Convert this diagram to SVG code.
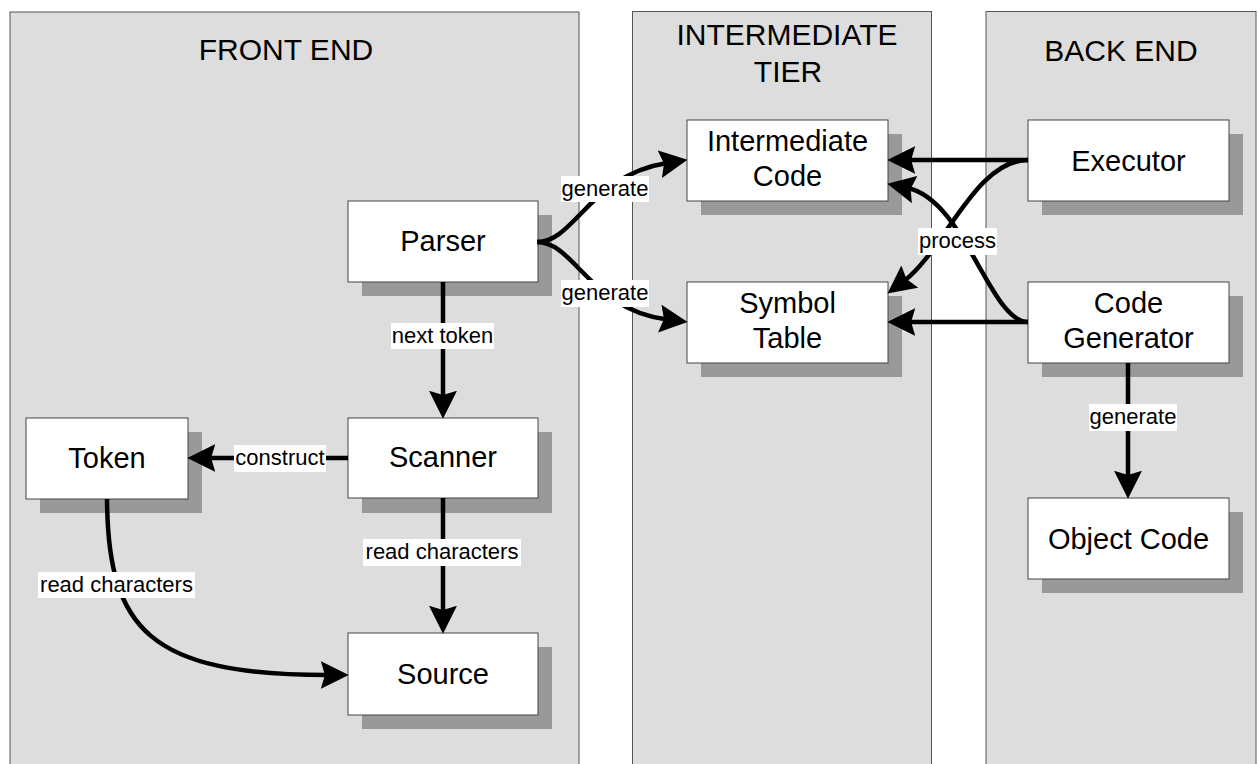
<svg xmlns="http://www.w3.org/2000/svg" width="1258" height="764" viewBox="0 0 1258 764">
<defs>
<style>
.panel{fill:#dddddd;stroke:#555555;stroke-width:1}
.title{font-family:"Liberation Sans",Arial,sans-serif;font-size:30px;fill:#000;text-anchor:middle}
.box{fill:#ffffff;stroke:#444444;stroke-width:1}
.shadow{fill:#999999}
.ntext{font-family:"Liberation Sans",Arial,sans-serif;font-size:29px;fill:#000;text-anchor:middle}
.edge{fill:none;stroke:#000;stroke-width:4.5;marker-end:url(#arr)}
.lbg{fill:#ffffff}
.ltext{font-family:"Liberation Sans",Arial,sans-serif;font-size:22px;fill:#000;text-anchor:middle}
</style>
<marker id="arr" markerUnits="userSpaceOnUse" markerWidth="28" markerHeight="28" viewBox="0 0 27 27" refX="7" refY="13.5" orient="auto">
<path d="M0,0 L27,13.5 L0,27 L4,13.5 Z" fill="#000"/>
</marker>
</defs>
<rect width="1258" height="764" fill="#ffffff"/>
<g id="panels">
<rect class="panel" x="10" y="12" width="569" height="770"/>
<rect class="panel" x="632.5" y="11.5" width="299" height="770"/>
<rect class="panel" x="986" y="11.5" width="270" height="770"/>
<text class="title" x="286" y="60">FRONT END</text>
<text class="title" x="787" y="45">INTERMEDIATE</text>
<text class="title" x="788" y="82">TIER</text>
<text class="title" x="1121" y="61">BACK END</text>
</g>
<g id="parser">
<rect class="shadow" x="362" y="215" width="190" height="81"/>
<rect class="box" x="348" y="201" width="190" height="81"/>
<text class="ntext" x="443" y="251">Parser</text>
</g>
<g id="scanner">
<rect class="shadow" x="362" y="432" width="190" height="81"/>
<rect class="box" x="348" y="418" width="190" height="80"/>
<text class="ntext" x="443" y="467">Scanner</text>
</g>
<g id="token">
<rect class="shadow" x="40" y="432" width="162" height="81"/>
<rect class="box" x="26" y="418" width="162" height="81"/>
<text class="ntext" x="107" y="468">Token</text>
</g>
<g id="source">
<rect class="shadow" x="362" y="647" width="190" height="82"/>
<rect class="box" x="348" y="633" width="190" height="82"/>
<text class="ntext" x="443" y="684">Source</text>
</g>
<g id="intermediate-code">
<rect class="shadow" x="701" y="134" width="201" height="81"/>
<rect class="box" x="687" y="120" width="201" height="81"/>
<text class="ntext" x="787.5" y="151">Intermediate</text>
<text class="ntext" x="787.5" y="186">Code</text>
</g>
<g id="symbol-table">
<rect class="shadow" x="701" y="296" width="201" height="81"/>
<rect class="box" x="687" y="282" width="201" height="81"/>
<text class="ntext" x="787.5" y="313">Symbol</text>
<text class="ntext" x="787.5" y="348">Table</text>
</g>
<g id="executor">
<rect class="shadow" x="1042" y="134" width="201" height="81"/>
<rect class="box" x="1028" y="120" width="201" height="81"/>
<text class="ntext" x="1128.5" y="171">Executor</text>
</g>
<g id="code-generator">
<rect class="shadow" x="1042" y="296" width="201" height="81"/>
<rect class="box" x="1028" y="282" width="201" height="81"/>
<text class="ntext" x="1128.5" y="313">Code</text>
<text class="ntext" x="1128.5" y="348">Generator</text>
</g>
<g id="object-code">
<rect class="shadow" x="1042" y="512" width="201" height="81"/>
<rect class="box" x="1028" y="498" width="201" height="81"/>
<text class="ntext" x="1128.5" y="549">Object Code</text>
</g>
<g id="connectors">
<path class="edge" d="M443,282 L443,398"/>
<path class="edge" d="M443,498 L443,613"/>
<path class="edge" d="M348,458 L208,458"/>
<path class="edge" d="M107,499 C108,630 150,675 328,675"/>
<path class="edge" d="M537,242 C575,242 590,175 667,163"/>
<path class="edge" d="M537,242 C575,242 590,310 667,319.5"/>
<path class="edge" d="M1028,160 L908,160"/>
<path class="edge" d="M1028,322 L908,322"/>
<path class="edge" d="M1028,160 C975,160 945,250 904,281"/>
<path class="edge" d="M1028,322 C990,322 965,200 907.6,188"/>
<path class="edge" d="M1128,363 L1128,478"/>
<rect class="lbg" x="391" y="323" width="103" height="26"/>
<text class="ltext" x="442.5" y="343">next token</text>
<rect class="lbg" x="363" y="539" width="158" height="27"/>
<text class="ltext" x="442" y="559">read characters</text>
<rect class="lbg" x="234" y="445" width="92" height="27"/>
<text class="ltext" x="280" y="465">construct</text>
<rect class="lbg" x="38" y="572" width="157" height="26"/>
<text class="ltext" x="116.5" y="592">read characters</text>
<rect class="lbg" x="561" y="176" width="88" height="26"/>
<text class="ltext" x="605" y="196">generate</text>
<rect class="lbg" x="561" y="280" width="88" height="27"/>
<text class="ltext" x="605" y="300">generate</text>
<rect class="lbg" x="918" y="228" width="79" height="27"/>
<text class="ltext" x="957.5" y="248">process</text>
<rect class="lbg" x="1089" y="404" width="88" height="27"/>
<text class="ltext" x="1133" y="424">generate</text>
</g>
</svg>
